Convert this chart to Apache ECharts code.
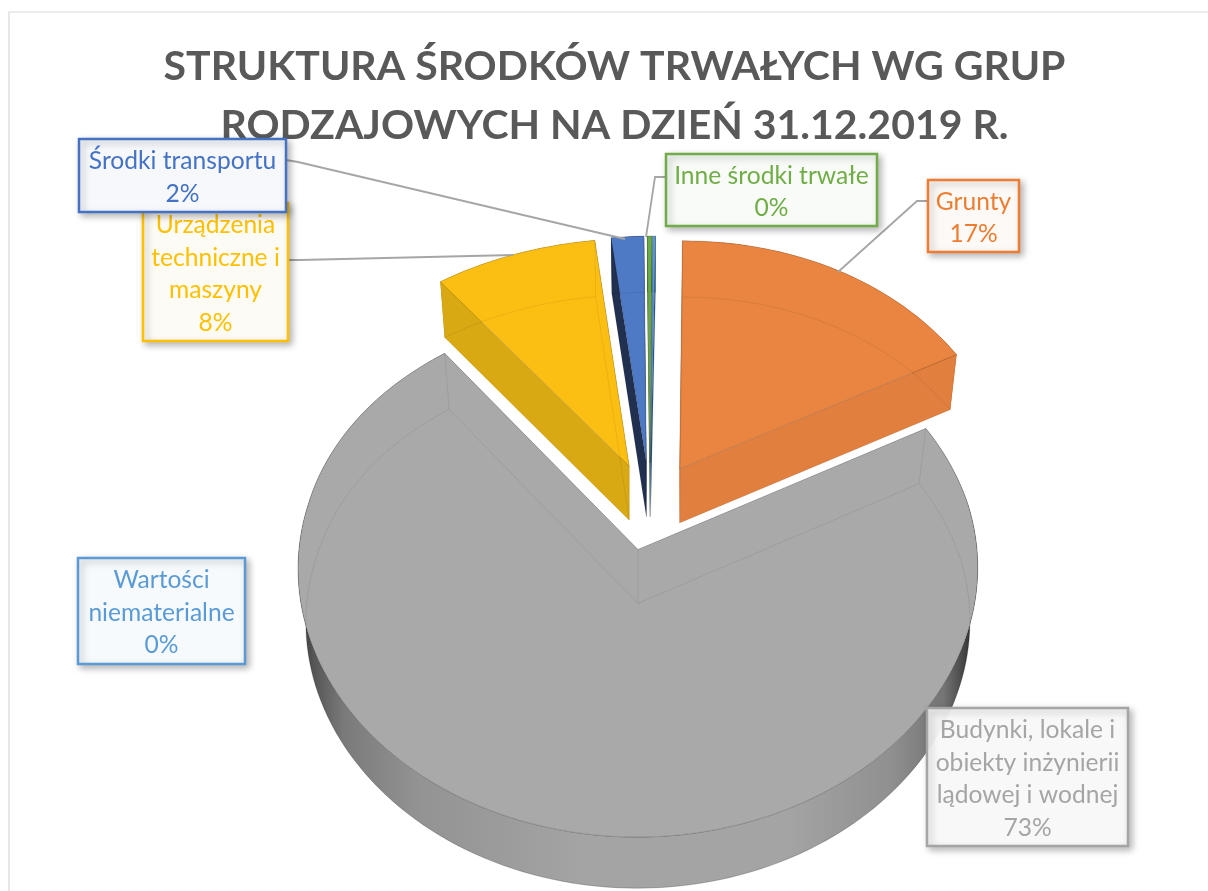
<!DOCTYPE html>
<html>
<head>
<meta charset="utf-8">
<title>Struktura środków trwałych</title>
<script src="https://cdn.jsdelivr.net/npm/echarts@6/dist/echarts.min.js"></script>
<style>
  html, body { margin: 0; padding: 0; background: #fff; }
  #myChart { width: 1208px; height: 891px; }
</style>
</head>
<body>
<div id="myChart"></div>
<script>
  // dane, kolejnosc zgodnie z ruchem wskazowek od godz. 12
  const categories = ['Grunty', 'Budynki, lokale i\nobiekty inżynierii\nlądowej i wodnej', 'Urządzenia\ntechniczne i\nmaszyny', 'Środki transportu', 'Inne środki trwałe', 'Wartości\nniematerialne'];
  const values = [17.1, 72.5, 8.3, 1.7, 0.25, 0.15];
  const titleLines = ['STRUKTURA ŚRODKÓW TRWAŁYCH WG GRUP', 'RODZAJOWYCH NA DZIEŃ 31.12.2019 R.'];

  const topColors = ['#E98540', '#A9A9A9', '#FBBF14', '#4E79C4', '#6AA84A', '#5B9BD5'];
  const wallColors = ['#E07F3E', null, '#D9A913', '#22304F', '#3F6B2C', '#2F5F8F'];
  const lineColors = ['#ED7D31', '#A5A5A5', '#FFC000', '#4472C4', '#70AD47', '#5B9BD5'];
  const boxFills = ['#FDF9F6', 'rgba(252,252,252,0.93)', '#FCFBF6', '#F6F8FC', '#F8FBF7', '#F6FAFD'];
  // ramki etykiet: x, y, szerokosc, wysokosc
  const boxes = [[928, 180, 91, 72], [927, 708, 201, 138], [143, 203, 145, 138], [79, 139, 207, 73], [666, 154, 211, 72], [78, 558, 167, 106]];
  const leaders = [
    [[928, 201], [917, 201], [838, 272]],
    null,
    [[288, 260], [300, 260], [513, 255]],
    [[286, 160], [298, 162], [625, 239]],
    [[666, 177], [655, 177], [646, 237]],
    null
  ];

  const total = values.reduce((a, b) => a + b, 0);
  const EXPLODE = 0.17;
  const THICK = 54;

  // rzut dysku na ekran (pochylenie + lekka perspektywa)
  function project(u, v) {
    const shift = 5 * Math.max(0, -v) * (1 - 2 * u * u);
    return [650 + shift + u * (335 + 24 * v), 506 + 257.4 * v + 22.7 * v * v];
  }

  function sliceAngles(idx) {
    let before = 0;
    for (let i = 0; i < idx; i++) before += values[i];
    return [before / total * Math.PI * 2, (before + values[idx]) / total * Math.PI * 2];
  }

  function sliceGeom(idx) {
    const [a0, a1] = sliceAngles(idx);
    const mid = (a0 + a1) / 2;
    const u0 = EXPLODE * Math.sin(mid);
    const v0 = -EXPLODE * Math.cos(mid);
    const apex = project(u0, v0);
    const rim = [];
    const steps = Math.max(2, Math.ceil((a1 - a0) / 0.03));
    for (let i = 0; i <= steps; i++) {
      const a = a0 + (a1 - a0) * i / steps;
      rim.push(project(u0 + Math.sin(a), v0 - Math.cos(a)));
    }
    // dolna podstawa jest troche mniejsza i przesunieta w dol
    const down = p => [apex[0] + (p[0] - apex[0]) * 0.977, apex[1] + THICK + (p[1] - apex[1]) * 0.99];
    return { apex, rim, apexB: down(apex), rimB: rim.map(down) };
  }

  const grayWall = new echarts.graphic.LinearGradient(296, 0, 978, 0, [
    { offset: 0, color: '#2e2e2e' },
    { offset: 0.025, color: '#555' },
    { offset: 0.07, color: '#7a7a7a' },
    { offset: 0.18, color: '#939393' },
    { offset: 0.42, color: '#A4A4A4' },
    { offset: 0.72, color: '#A4A4A4' },
    { offset: 0.87, color: '#909090' },
    { offset: 0.95, color: '#747474' },
    { offset: 0.98, color: '#444' },
    { offset: 1, color: '#1e1e1e' }
  ], true);

  function renderSlice(params, api) {
    const idx = params.dataIndex;
    const g = sliceGeom(idx);
    const first = g.rim[0], last = g.rim[g.rim.length - 1];
    const firstB = g.rimB[0], lastB = g.rimB[g.rimB.length - 1];
    const wall = wallColors[idx] || grayWall;
    const faint = { stroke: 'rgba(0,0,0,0.07)', fill: null, lineWidth: 1 };
    const top = [g.apex].concat(g.rim);
    return {
      type: 'group',
      children: [
        { type: 'polygon', shape: { points: g.rim.concat(g.rimB.slice().reverse()) }, style: { fill: wall, stroke: wallColors[idx] ? null : 'rgba(0,0,0,0.25)', lineWidth: 0.6 } },
        { type: 'polygon', shape: { points: [g.apex, first, firstB, g.apexB] }, style: { fill: wall } },
        { type: 'polygon', shape: { points: [g.apex, last, lastB, g.apexB] }, style: { fill: wall } },
        { type: 'polygon', shape: { points: top }, style: { fill: topColors[idx], stroke: 'rgba(0,0,0,0.22)', lineWidth: 0.8 } },
        { type: 'polyline', shape: { points: g.rimB }, style: faint },
        { type: 'polyline', shape: { points: [firstB, g.apexB, lastB] }, style: faint },
        { type: 'polyline', shape: { points: [first, firstB] }, style: faint },
        { type: 'polyline', shape: { points: [last, lastB] }, style: faint },
        { type: 'polyline', shape: { points: [g.apex, g.apexB] }, style: faint }
      ]
    };
  }

  function renderLabel(params, api) {
    const idx = params.dataIndex;
    const b = boxes[idx];
    const color = lineColors[idx];
    const pct = Math.round(values[idx] / total * 100) + '%';
    const children = [];
    if (leaders[idx]) {
      children.push({ type: 'polyline', shape: { points: leaders[idx] }, style: { stroke: '#A6A6A6', fill: null, lineWidth: 1.8 } });
    }
    children.push({
      type: 'rect',
      shape: { x: b[0], y: b[1], width: b[2], height: b[3] },
      style: { fill: boxFills[idx], stroke: color, lineWidth: 2.5, shadowBlur: 7, shadowOffsetX: 3, shadowOffsetY: 3, shadowColor: 'rgba(0,0,0,0.28)' }
    });
    children.push({
      type: 'text',
      style: {
        x: b[0] + b[2] / 2,
        y: b[1] + b[3] / 2 + 2,
        text: categories[idx] + '\n' + pct,
        fill: color,
        font: '24.6px Lato',
        lineHeight: 32.5,
        align: 'center',
        verticalAlign: 'middle'
      }
    });
    return { type: 'group', children: children };
  }

  const myChart = echarts.init(document.getElementById('myChart'), null, { renderer: 'canvas' });
  const seriesData = values.map((v, i) => ({ name: categories[i], value: v }));
  myChart.setOption({
    animation: false,
    title: {
      text: titleLines.join('\n'),
      left: 609.5,
      top: 32,
      textAlign: 'center',
      z: 0,
      textStyle: { color: '#595959', fontFamily: 'Lato', fontWeight: 'bold', fontSize: 41, lineHeight: 59 }
    },
    graphic: [
      { type: 'polyline', z: 0, shape: { points: [[9, 891], [9, 12], [1208, 12]] }, style: { stroke: '#D9D9D9', fill: null, lineWidth: 1.2 } }
    ],
    series: [
      { type: 'custom', coordinateSystem: 'none', renderItem: renderSlice, data: seriesData, z: 2, silent: true },
      { type: 'custom', coordinateSystem: 'none', renderItem: renderLabel, data: seriesData, z: 3, silent: true }
    ]
  });
</script>
</body>
</html>
